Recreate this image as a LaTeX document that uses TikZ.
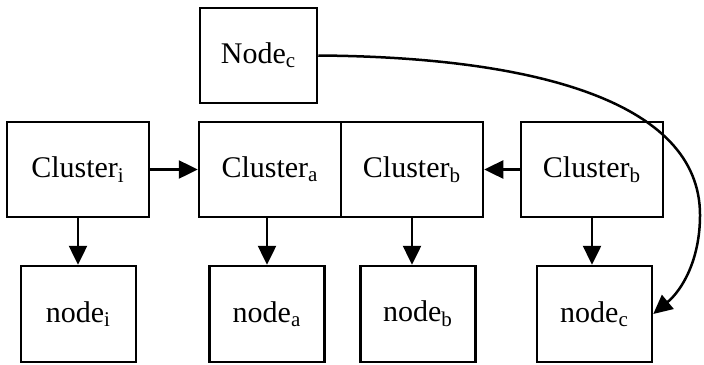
\documentclass[tikz,border=0pt]{standalone}
\usepackage{fontspec}
\setmainfont{Liberation Serif}
\usepackage{tikz}
\usetikzlibrary{arrows.meta}
\usetikzlibrary{positioning,calc}
\tikzset{
    clusterBox/.style={
    ,   draw
    ,   rectangle
    ,   minimum width=71pt
    ,   minimum height=47.5pt
    ,   inner sep=0pt
    },
    leafBox/.style={
    ,   draw
    ,   rectangle
    ,   minimum width=57.5pt
    ,   minimum height=48pt
    ,   inner sep=0pt
    },
    headBox/.style={
    ,   draw
    ,   rectangle
    ,   minimum width=58.5pt
    ,   minimum height=47.5pt
    ,   inner sep=0pt
    }
}

\begin{document}
\begin{tikzpicture}[->,>={Triangle[length=9.5pt, width=9pt]}
				,x=0.5pt,y=-0.5pt
				,font={\fontsize{15pt}{17pt}\selectfont}
				,line width=1.25pt]
		\useasboundingbox (0,0) rectangle (704,364);

		% top node
		\node[headBox] (Nodec) at (258.5,55.5) {Node\textsubscript{c}};

		% cluster row
		\node[clusterBox] (Clusteri) at (78,169.5) {Cluster\textsubscript{i}};
		\node[clusterBox] (Clustera) at (270,169.5) {Cluster\textsubscript{a}};
		\node[clusterBox] (Clusterb) at (412,169.5) {Cluster\textsubscript{b}};
		\node[clusterBox] (Clusterbb) at (592,169.5) {Cluster\textsubscript{b}};

		% leaf row
		\node[leafBox] (nodei) at (78.5,314) {node\textsubscript{i}};
		\node[leafBox] (nodea) at (267,314) {node\textsubscript{a}};
		\node[leafBox] (nodeb) at (418,314) {node\textsubscript{b}};
		\node[leafBox] (nodec) at (594.5,314) {node\textsubscript{c}};

		\draw (Clusteri) -- (Clustera);
		\draw (Clusterbb) -- (Clusterb);
		\draw (Clusteri.south) -- (Clusteri.south |- nodei.north);
		\draw (nodea.north |- Clustera.south) -- (nodea.north);
		\draw (Clusterb.south) -- (Clusterb.south |- nodeb.north);
		\draw (Clusterbb.south) -- (Clusterbb.south |- nodec.north);
		\draw (Nodec.east) .. controls (530,57) and (700,100) .. (700,215)
			.. controls (700,260) and (682,290) .. (nodec.east);
\end{tikzpicture}
\end{document}
